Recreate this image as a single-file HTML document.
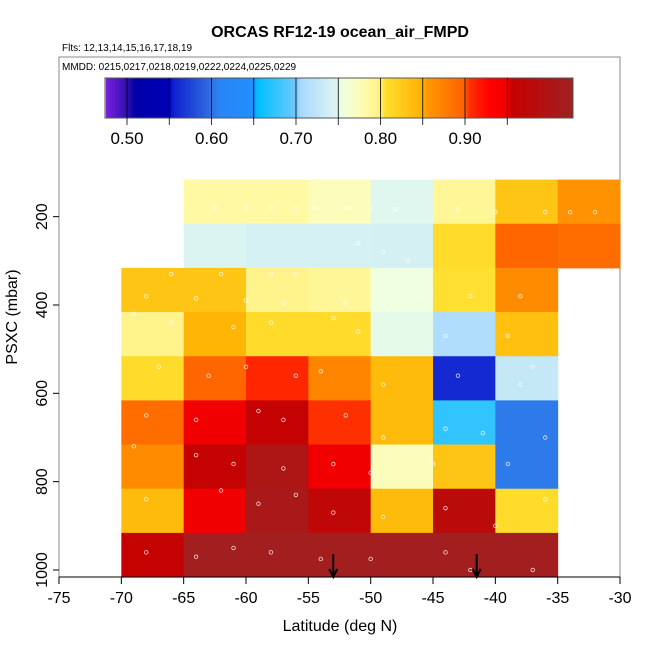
<!DOCTYPE html>
<html><head><meta charset="utf-8"><style>
body{margin:0;background:#fff}
svg{display:block;font-family:"Liberation Sans",sans-serif}
</style></head><body>
<svg id="c" width="650" height="650" viewBox="0 0 650 650">
<text x="340" y="37" text-anchor="middle" font-size="16" font-weight="bold">ORCAS RF12-19 ocean_air_FMPD</text>
<text x="62" y="51" font-size="10">Flts: 12,13,14,15,16,17,18,19</text>
<rect x="59" y="57" width="561" height="520" fill="none" stroke="#888" stroke-width="1"/>
<text x="62" y="70" font-size="10">MMDD: 0215,0217,0218,0219,0222,0224,0225,0229</text>
<g id="cells"></g><g id="pts"></g><g id="cbar"></g><g id="axes"></g>
</svg>
<script>
const lats=[-70,-65,-60,-55,-50,-45,-40,-35];
const presTop=[116,216,316,416,516,616,716,816,916];
const values=[
[null,.785,.785,.775,.75,.79,.83,.86],
[null,.746,.742,.742,.74,.81,.895,.89],
[.83,.83,.795,.79,.755,.805,.865,null],
[.795,.845,.81,.81,.752,.712,.835,null],
[.81,.895,.91,.87,.84,.56,.728,null],
[.89,.95,.96,.905,.84,.675,.605,null],
[.865,.96,1.0,.95,.775,.83,.605,null],
[.84,.95,1.01,.97,.84,.98,.81,null],
[.96,1.02,1.02,1.02,1.02,1.02,1.02,null]];
const ptLat=[-67,-62.5,-60,-58,-56,-54.5,-52,-50,-48,-43,-40,-36,-34,-32,-66,-62,-58,-56,-51,-49,-47,-68,-64,-60,-57,-52,-49,-46,-42,-38,-69,-66,-61,-58,-53,-51,-44,-39,-67,-63,-60,-56,-54,-49,-43,-38,-37,-68,-64,-59,-57,-52,-49,-44,-41,-36,-69,-64,-61,-57,-53,-50,-45,-39,-68,-62,-59,-56,-53,-49,-44,-40,-36,-68,-64,-61,-58,-54,-50,-44,-42,-37];
const ptP=[180,180,180,180,180,180,180,183,183,183,190,190,190,190,330,330,330,330,260,280,300,380,385,390,395,395,400,380,380,380,420,440,450,440,430,460,470,470,540,560,540,560,550,580,560,580,540,650,660,640,660,650,700,680,690,700,720,740,760,770,760,780,760,760,840,820,850,830,870,880,860,900,840,960,970,950,960,975,975,960,1000,1000];
const X=v=>59+(v+75)*12.467, Y=p=>570-(1000-p)*0.44167;
const stops=[[.475,"#7b1fe0"],[.50,"#3010b0"],[.51,"#0000a8"],[.55,"#0000b8"],[.555,"#1020d0"],[.60,"#3070e0"],[.61,"#2a85f5"],[.65,"#2090ff"],[.655,"#00c0ff"],[.70,"#70c8ff"],[.705,"#a8d8ff"],[.75,"#e0f7f0"],[.755,"#f0ffe0"],[.78,"#fffcb0"],[.80,"#fff080"],[.805,"#ffe030"],[.85,"#ffb000"],[.855,"#ff9800"],[.90,"#ff6000"],[.905,"#ff3000"],[.93,"#ff0000"],[.95,"#f00000"],[.955,"#c80000"],[1.025,"#a02020"]];
function hx(h){return [1,3,5].map(i=>parseInt(h.substr(i,2),16));}
function col(v){if(v<=stops[0][0])return stops[0][1];for(let i=1;i<stops.length;i++){if(v<=stops[i][0]){const a=stops[i-1],b=stops[i],t=(v-a[0])/(b[0]-a[0]);const c1=hx(a[1]),c2=hx(b[1]);return "rgb("+c1.map((c,k)=>Math.round(c+(c2[k]-c)*t)).join(",")+")";}}return stops[stops.length-1][1];}
const NS="http://www.w3.org/2000/svg";
function mk(tag,attrs,parent){const e=document.createElementNS(NS,tag);for(const k in attrs)e.setAttribute(k,attrs[k]);parent.appendChild(e);return e;}
const cells=document.getElementById('cells');
values.forEach((row,r)=>row.forEach((v,c)=>{if(v===null)return;
const e=mk('rect',{x:X(lats[c]),y:Y(presTop[r]),width:X(lats[c]+5)-X(lats[c])+0.5,height:Y(presTop[r]+100)-Y(presTop[r])+0.5,fill:col(v)},cells);

}));
const pts=document.getElementById('pts');
ptLat.forEach((la,i)=>{const e=mk('circle',{cx:X(la),cy:Y(ptP[i]),r:1.8,fill:"none",stroke:"#fff","stroke-width":0.8,opacity:0.85},pts);

});
const cb=document.getElementById('cbar');
const cbX=v=>127+(v-0.5)*845;
for(let v=0.475;v<1.025;v+=0.0025){mk('rect',{x:cbX(v),y:78,width:845*0.0025+0.4,height:40,fill:col(v+0.00125)},cb);}
const cbo=mk('rect',{x:105,y:78,width:468,height:40,fill:"none",stroke:"#555"},cb);


for(let k=0;k<10;k++){const v=0.5+k*0.05;mk('line',{x1:cbX(v),x2:cbX(v),y1:78,y2:125,stroke:"#000","stroke-width":0.8},cb);}
const cbTicks=["0.50","0.60","0.70","0.80","0.90"];
cbTicks.forEach(t=>{const e=mk('text',{x:cbX(+t),y:144,"text-anchor":"middle","font-size":17},cb);e.textContent=t;

});
const ax=document.getElementById('axes');
mk('line',{x1:59,x2:620,y1:577,y2:577,stroke:"#000"},ax);
const xt=[-75,-70,-65,-60,-55,-50,-45,-40,-35,-30];
xt.forEach(v=>{mk('line',{x1:X(v),x2:X(v),y1:577,y2:584,stroke:"#000"},ax);const e=mk('text',{x:X(v),y:603,"text-anchor":"middle","font-size":16},ax);e.textContent=v;

});
const yt=[200,400,600,800,1000];
yt.forEach(v=>{mk('line',{x1:53,x2:59,y1:Y(v),y2:Y(v),stroke:"#000"},ax);const e=mk('text',{x:0,y:0,"text-anchor":"middle","font-size":16,transform:`translate(47,${Y(v)}) rotate(-90)`},ax);e.textContent=v;

});
const xl=mk('text',{x:340,y:631,"text-anchor":"middle","font-size":16},ax);xl.textContent="Latitude (deg N)";


const yl=mk('text',{x:0,y:0,"text-anchor":"middle","font-size":16,transform:"translate(17,317) rotate(-90)"},ax);yl.textContent="PSXC (mbar)";


const arrows=[-53,-41.5];
arrows.forEach(a=>{const g=mk('g',{},ax);


mk('line',{x1:X(a),x2:X(a),y1:554,y2:576,stroke:"#000","stroke-width":2},g);
mk('path',{d:`M${X(a)-4},569 L${X(a)},577 L${X(a)+4},569`,fill:"none",stroke:"#000","stroke-width":2},g);});
</script>
</body></html>
